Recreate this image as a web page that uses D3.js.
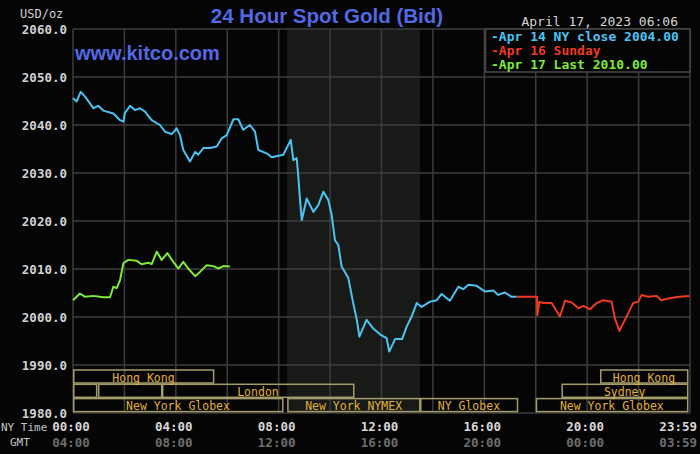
<!DOCTYPE html>
<html>
<head>
<meta charset="utf-8">
<script src="https://cdn.jsdelivr.net/npm/d3@7"></script>
<style>
  html, body { margin: 0; padding: 0; background: #050505; }
  svg { display: block; }
</style>
</head>
<body>
<svg id="chart" width="700" height="454"></svg>
<script>
// [hour of the NY day, bid in USD/oz]
const apr14Close = [
  [0.00, 2045.6], [0.14, 2044.9], [0.30, 2046.9], [0.47, 2045.9], [0.79, 2043.5],
  [0.98, 2044.0], [1.18, 2043.0], [1.57, 2042.4], [1.83, 2041.0], [1.96, 2040.7],
  [2.02, 2042.5], [2.22, 2044.0], [2.41, 2043.1], [2.61, 2043.5], [2.80, 2042.8],
  [3.06, 2041.0], [3.38, 2040.0], [3.58, 2038.6], [3.84, 2038.1], [4.03, 2039.3],
  [4.16, 2037.9], [4.29, 2034.8], [4.55, 2032.4], [4.75, 2034.4], [4.87, 2033.8],
  [5.07, 2035.2], [5.33, 2035.2], [5.59, 2035.5], [5.78, 2037.2], [5.98, 2037.9],
  [6.24, 2041.2], [6.43, 2041.2], [6.62, 2039.0], [6.88, 2040.0], [7.08, 2038.6],
  [7.21, 2034.8], [7.53, 2034.1], [7.73, 2033.3], [8.18, 2033.8], [8.47, 2036.9],
  [8.57, 2032.7], [8.70, 2033.1], [8.76, 2029.6], [8.83, 2024.4], [8.90, 2020.2],
  [9.09, 2024.7], [9.35, 2021.9], [9.54, 2023.3], [9.74, 2026.1], [9.93, 2024.4],
  [10.06, 2021.3], [10.19, 2016.0], [10.32, 2015.0], [10.45, 2010.5], [10.71, 2008.1],
  [10.90, 2002.9], [11.04, 1999.4], [11.14, 1995.9], [11.42, 1999.4], [11.68, 1997.6],
  [11.94, 1996.4], [12.20, 1995.6], [12.30, 1992.8], [12.53, 1995.4], [12.80, 1995.4],
  [12.98, 1998.0], [13.17, 2000.1], [13.37, 2002.9], [13.56, 2002.1], [13.89, 2003.2],
  [14.15, 2003.5], [14.34, 2004.8], [14.66, 2003.4], [14.99, 2006.3], [15.18, 2005.8],
  [15.38, 2006.7], [15.70, 2006.5], [16.03, 2005.3], [16.35, 2005.5], [16.54, 2004.6],
  [16.80, 2005.1], [17.06, 2004.2], [17.26, 2004.2]
];

const apr16Sunday = [
  [17.26, 2004.2], [18.05, 2004.2], [18.06, 2000.4], [18.14, 2003.2], [18.29, 2002.9],
  [18.62, 2002.9], [18.94, 2000.1], [19.14, 2003.4], [19.40, 2003.0], [19.66, 2001.8],
  [19.85, 2002.3], [20.11, 2001.6], [20.37, 2002.9], [20.63, 2003.5], [20.95, 2003.2],
  [21.08, 1999.7], [21.25, 1997.1], [21.47, 1999.4], [21.79, 2002.9], [21.99, 2003.2],
  [22.12, 2004.6], [22.38, 2004.2], [22.70, 2004.4], [22.88, 2003.5], [23.20, 2003.9],
  [23.59, 2004.2], [23.98, 2004.4]
];

const apr17Last = [
  [0.00, 2003.5], [0.08, 2003.9], [0.27, 2004.9], [0.47, 2004.2], [0.79, 2004.4],
  [1.18, 2004.1], [1.44, 2004.1], [1.57, 2006.3], [1.70, 2006.0], [1.83, 2007.7],
  [1.96, 2011.2], [2.15, 2011.9], [2.48, 2011.7], [2.67, 2011.0], [2.93, 2011.3],
  [3.06, 2011.0], [3.26, 2013.6], [3.45, 2011.9], [3.67, 2013.3], [3.90, 2011.5],
  [4.10, 2010.1], [4.29, 2011.5], [4.48, 2010.1], [4.75, 2008.5], [4.94, 2009.4],
  [5.20, 2010.8], [5.46, 2010.6], [5.66, 2010.1], [5.85, 2010.6], [6.10, 2010.5]
];

const priceTicks = [1980, 1990, 2000, 2010, 2020, 2030, 2040, 2050, 2060];
const gridHours = [0, 2, 4, 6, 8, 10, 12, 14, 16, 18, 20, 22, 24];
const labelHours = [0, 4, 8, 12, 16, 20, 24];
const nyTimeLabels = ["00:00", "04:00", "08:00", "12:00", "16:00", "20:00", "23:59"];
const gmtLabels = ["04:00", "08:00", "12:00", "16:00", "20:00", "00:00", "03:59"];
const legendLabels = ["-Apr 14 NY close 2004.00", "-Apr 16 Sunday", "-Apr 17 Last 2010.00"];
const pitHours = [8.33, 13.5];

// trading sessions: row 0 = top
const sessionNames = ["Hong Kong", "", "", "London", "New York Globex", "New York NYMEX", "NY Globex", "Hong Kong", "Sydney", "New York Globex"];
const sessionRows  = [0, 1, 1, 1, 2, 2, 2, 0, 1, 2];
const sessionStart = [0, 0, 0.97, 3.46, 0, 8.33, 13.5, 20.5, 19.0, 18.0];
const sessionEnd   = [5.48, 0.93, 3.46, 10.93, 8.17, 13.5, 17.3, 23.92, 23.92, 23.92];

const svg = d3.select("#chart");
const W = 700, H = 454;
const plotLeft = 73, plotRight = 690, plotTop = 29, plotBottom = 413;

const x = d3.scaleLinear().domain([0, 24]).range([plotLeft, plotRight]);
const y = d3.scaleLinear().domain([1980, 2060]).range([plotBottom, plotTop]);

const mono = "'DejaVu Sans Mono', 'Liberation Mono', monospace";
const sans = "'Liberation Sans', Arial, sans-serif";

svg.append("rect").attr("width", W).attr("height", H).attr("fill", "#050505");

// NYMEX pit hours shading
svg.append("rect")
  .attr("x", x(pitHours[0])).attr("y", plotTop)
  .attr("width", x(pitHours[1]) - x(pitHours[0])).attr("height", plotBottom - plotTop)
  .attr("fill", "#171a17");

// grid
svg.append("g").selectAll("line").data(priceTicks).join("line")
  .attr("x1", plotLeft).attr("x2", plotRight)
  .attr("y1", d => y(d)).attr("y2", d => y(d))
  .attr("stroke", "#3c3c3c").attr("stroke-width", 1.5);

svg.append("g").selectAll("line").data(gridHours).join("line")
  .attr("x1", d => x(d)).attr("x2", d => x(d))
  .attr("y1", plotTop).attr("y2", plotBottom)
  .attr("stroke", "#3c3c3c").attr("stroke-width", 1.5);

// session boxes
const rowH = 14.3;
const sessions = sessionNames.map((name, i) => ({
  name, row: sessionRows[i], start: sessionStart[i], end: sessionEnd[i]
}));
const sg = svg.append("g");
sg.selectAll("rect").data(sessions).join("rect")
  .attr("x", d => x(d.start) + 0.75)
  .attr("y", d => 370 + d.row * rowH)
  .attr("width", d => x(d.end) - x(d.start) - 1)
  .attr("height", rowH - 1.3)
  .attr("fill", "none")
  .attr("stroke", "#a59c6c").attr("stroke-width", 1.5);
sg.selectAll("text").data(sessions.filter(d => d.name)).join("text")
  .attr("x", d => (x(d.start) + x(d.end)) / 2)
  .attr("y", d => 381.5 + d.row * rowH)
  .attr("text-anchor", "middle")
  .attr("font-family", mono).attr("font-size", 11.5)
  .attr("fill", "#e2b23a")
  .text(d => d.name);

// price lines
const line = d3.line().x(d => x(d[0])).y(d => y(d[1]));
const series = [
  { data: apr14Close, color: "#4cc3f2" },
  { data: apr16Sunday, color: "#ee3b22" },
  { data: apr17Last, color: "#7eea3c" }
];
svg.append("g").selectAll("path").data(series).join("path")
  .attr("d", d => line(d.data))
  .attr("fill", "none")
  .attr("stroke", d => d.color)
  .attr("stroke-width", 2)
  .attr("stroke-linejoin", "round");

// legend
svg.append("rect")
  .attr("x", 485.5).attr("y", 29).attr("width", 204.5).attr("height", 43)
  .attr("fill", "#050505").attr("stroke", "#4a4a4a").attr("stroke-width", 1.5);
svg.append("g").selectAll("text").data(legendLabels).join("text")
  .attr("x", 491).attr("y", (d, i) => 40.5 + i * 14)
  .attr("font-family", mono).attr("font-size", 13).attr("font-weight", "bold")
  .attr("fill", (d, i) => series[i].color)
  .text(d => d);

// price axis labels
svg.append("g").selectAll("text").data(priceTicks).join("text")
  .attr("x", 67).attr("y", d => y(d) + 4.5)
  .attr("text-anchor", "end")
  .attr("font-family", mono).attr("font-size", 12.5).attr("font-weight", "bold")
  .attr("fill", "#d2d2d2")
  .text(d => d3.format(".1f")(d));

// time axis labels
const anchorFor = i => i === labelHours.length - 1 ? "end" : "middle";
const xFor = i => i === labelHours.length - 1 ? 697 : x(labelHours[i]) - 2;
svg.append("g").selectAll("text").data(nyTimeLabels).join("text")
  .attr("x", (d, i) => xFor(i)).attr("y", 431)
  .attr("text-anchor", (d, i) => anchorFor(i))
  .attr("font-family", mono).attr("font-size", 12.5).attr("font-weight", "bold")
  .attr("fill", "#d8d8d8")
  .text(d => d);
svg.append("g").selectAll("text").data(gmtLabels).join("text")
  .attr("x", (d, i) => xFor(i)).attr("y", 447)
  .attr("text-anchor", (d, i) => anchorFor(i))
  .attr("font-family", mono).attr("font-size", 12.5).attr("font-weight", "bold")
  .attr("fill", "#6e6e6e")
  .text(d => d);

svg.append("text").attr("x", 1).attr("y", 431)
  .attr("font-family", mono).attr("font-size", 11)
  .attr("fill", "#c4c4c4").text("NY Time");
svg.append("text").attr("x", 10).attr("y", 446)
  .attr("font-family", mono).attr("font-size", 11)
  .attr("fill", "#c4c4c4").text("GMT");

// titles
svg.append("text").attr("x", 20).attr("y", 18)
  .attr("font-family", mono).attr("font-size", 12)
  .attr("fill", "#cfcfcf").text("USD/oz");
svg.append("text").attr("x", 327).attr("y", 23)
  .attr("text-anchor", "middle")
  .attr("font-family", sans).attr("font-size", 20.5).attr("font-weight", "bold")
  .attr("fill", "#5369e4").text("24 Hour Spot Gold (Bid)");
svg.append("text").attr("x", 678).attr("y", 26)
  .attr("text-anchor", "end")
  .attr("font-family", mono).attr("font-size", 13)
  .attr("fill", "#d6d6d6").text("April 17, 2023 06:06");
svg.append("text").attr("x", 75).attr("y", 60)
  .attr("font-family", sans).attr("font-size", 20).attr("font-weight", "bold")
  .attr("fill", "#5369e4").text("www.kitco.com");
</script>
</body>
</html>
